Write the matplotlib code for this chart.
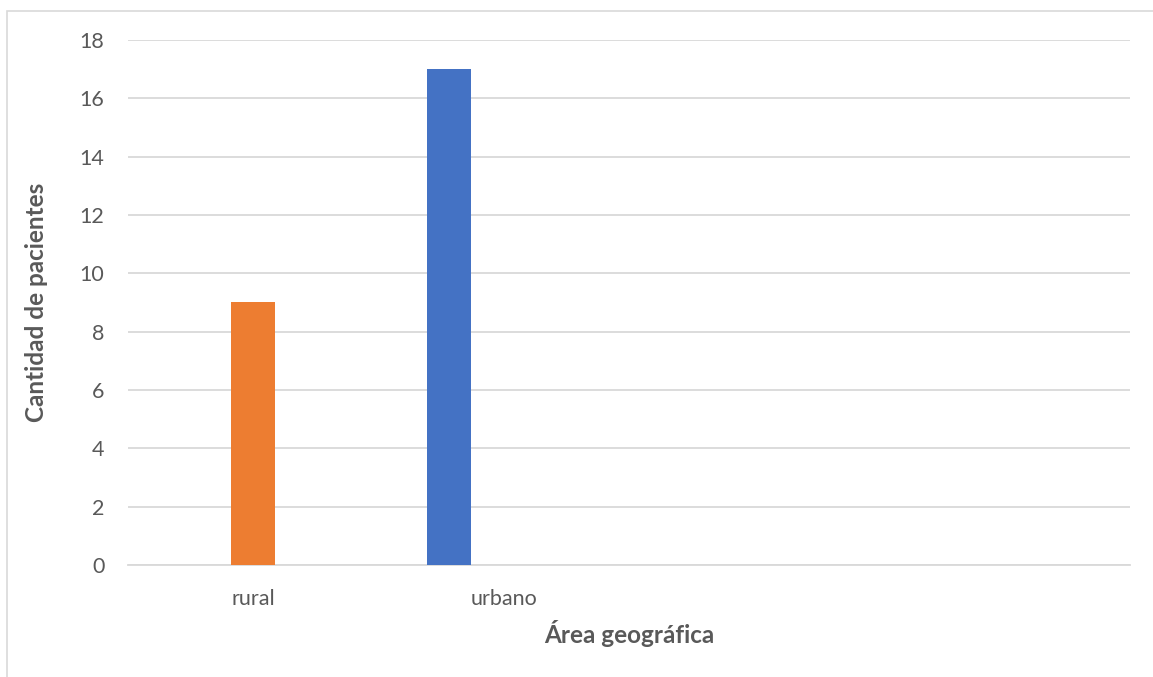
import matplotlib.pyplot as plt
from matplotlib.patches import Rectangle

# category slots on the x axis (only the first two carry a label)
categories = ["rural", "urbano", "", ""]
series_names = ["rural", "urbano"]
bar_positions = [0.5, 1.28]
bar_values = [9, 17]
bar_colors = ["#ED7D31", "#4472C4"]
y_ticks = [0, 2, 4, 6, 8, 10, 12, 14, 16, 18]

plt.rcParams["font.family"] = ["Lato", "DejaVu Sans"]

fig = plt.figure(figsize=(11.53, 6.77), dpi=100)
ax = fig.add_axes([0.111, 0.1654, 0.869, 0.7756])

ax.bar(bar_positions, bar_values, width=0.175, color=bar_colors, zorder=3)

ax.set_xlim(0, len(categories))
ax.set_ylim(0, 18)
ax.set_yticks(y_ticks)
ax.set_xticks([i + 0.5 for i in range(len(categories))])
ax.set_xticklabels(categories)
ax.tick_params(axis="both", length=0, colors="#595959", labelsize=15.5)
ax.tick_params(axis="x", pad=17)
ax.tick_params(axis="y", pad=17)

ax.grid(axis="y", color="#d9d9d9", linewidth=1.3, zorder=0)
for s in ["top", "right", "left"]:
    ax.spines[s].set_visible(False)
ax.spines["bottom"].set_color("#d9d9d9")
ax.spines["bottom"].set_linewidth(1.3)

ax.set_ylabel("Cantidad de pacientes", fontsize=17.5, fontweight="bold",
              color="#595959", labelpad=23)
ax.set_xlabel("Área geográfica", fontsize=17.5, fontweight="bold",
              color="#595959", labelpad=8)

# chart frame
fig.patches.append(Rectangle((7 / 1153, -0.1), 1.2, 1 - 11 / 677 + 0.1,
                             transform=fig.transFigure, fill=False,
                             edgecolor="#d9d9d9", linewidth=1.2))

fig.savefig("out.png", dpi=100)
